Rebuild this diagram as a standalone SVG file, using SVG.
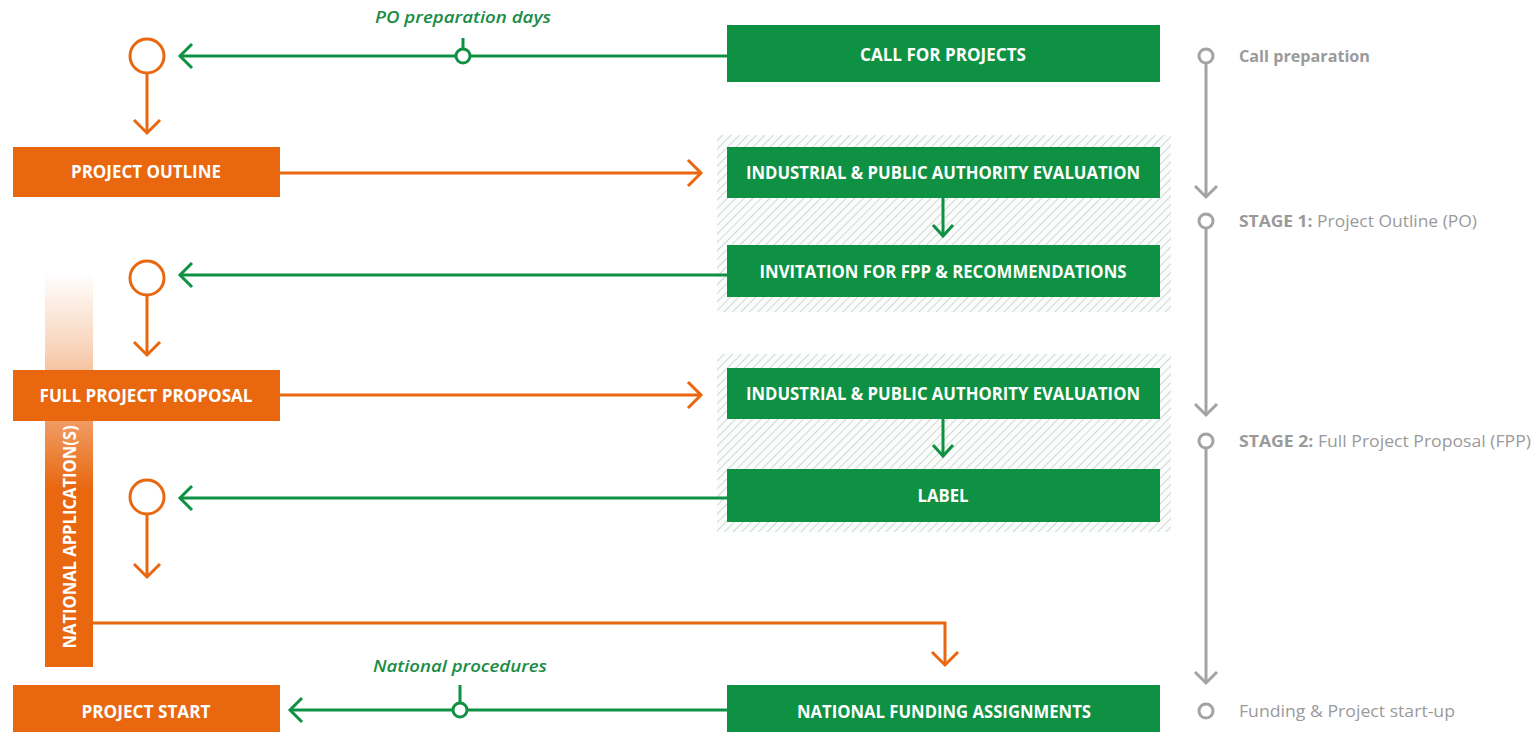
<svg xmlns="http://www.w3.org/2000/svg" width="1539" height="732" viewBox="0 0 1539 732">
<style>
.bg{fill:#0e9142}
.bo{fill:#e8670f}
.lbl{font-family:"Open Sans","Noto Sans",sans-serif;font-weight:700;font-size:18px;fill:#fff;text-anchor:middle}
.it{font-family:"Open Sans","Noto Sans",sans-serif;font-style:italic;font-weight:600;font-size:17px;fill:#1a8c45;text-anchor:middle}
.gt{font-family:"Open Sans","Noto Sans",sans-serif;font-size:16px;fill:#9a9a9a}
.gtb{font-weight:700}
.lg{fill:none;stroke:#0e9142;stroke-width:3}
.lo{fill:none;stroke:#e8670f;stroke-width:3}
.lgr{fill:none;stroke:#a3a3a3;stroke-width:3}
.hatch{fill:url(#hatch)}
</style>
<defs>
<pattern id="hatch" patternUnits="userSpaceOnUse" width="6" height="6" patternTransform="rotate(45)">
<rect width="6" height="6" fill="#fafdfb"/>
<line x1="0" y1="0" x2="0" y2="6" stroke="#a9bcae" stroke-width="1.1"/>
</pattern>
<linearGradient id="barGrad" x1="0" y1="273" x2="0" y2="667" gradientUnits="userSpaceOnUse">
<stop offset="0" stop-color="#e8670f" stop-opacity="0"/>
<stop offset="0.2" stop-color="#e8670f" stop-opacity="0.3"/>
<stop offset="0.55" stop-color="#e8670f" stop-opacity="1"/>
<stop offset="1" stop-color="#e8670f" stop-opacity="1"/>
</linearGradient>
<marker id="ag" viewBox="-15 -15 30 30" markerWidth="30" markerHeight="30" refX="0" refY="0" orient="auto" markerUnits="userSpaceOnUse">
<path d="M-12,-12 L0,0 L-12,12" fill="none" stroke="#0e9142" stroke-width="3"/>
</marker>
<marker id="ags" viewBox="-15 -15 30 30" markerWidth="30" markerHeight="30" refX="0" refY="0" orient="auto" markerUnits="userSpaceOnUse">
<path d="M-11,-10 L0,0 L-11,10" fill="none" stroke="#0e9142" stroke-width="3"/>
</marker>
<marker id="ao" viewBox="-15 -15 30 30" markerWidth="30" markerHeight="30" refX="0" refY="0" orient="auto" markerUnits="userSpaceOnUse">
<path d="M-13,-13 L0,0 L-13,13" fill="none" stroke="#e8670f" stroke-width="3"/>
</marker>
<marker id="agr" viewBox="-15 -15 30 30" markerWidth="30" markerHeight="30" refX="0" refY="0" orient="auto" markerUnits="userSpaceOnUse">
<path d="M-11,-11 L0,0 L-11,11" fill="none" stroke="#a3a3a3" stroke-width="3"/>
</marker>
</defs>
<rect width="1539" height="732" fill="#fff"/>

<g id="hatched-areas">
<rect class="hatch" x="717" y="135" width="454" height="177"/>
<rect class="hatch" x="717" y="354" width="454" height="178"/>
</g>

<g id="national-applications">
<rect x="45" y="273" width="48" height="394" fill="url(#barGrad)"/>
<text class="lbl" transform="translate(76,537) rotate(-90)" x="0" y="0" textLength="223" lengthAdjust="spacingAndGlyphs">NATIONAL APPLICATION(S)</text>
</g>

<g id="connectors">
<line class="lg" x1="727" y1="56" x2="180" y2="56" marker-end="url(#ag)"/>
<line class="lg" x1="463" y1="38" x2="463" y2="49"/>
<circle cx="463" cy="56" r="7" fill="#fff" stroke="#0e9142" stroke-width="3"/>
<circle cx="147" cy="56" r="17" fill="#fff" stroke="#e8670f" stroke-width="3"/>
<line class="lo" x1="147" y1="73" x2="147" y2="133" marker-end="url(#ao)"/>
<line class="lo" x1="280" y1="173" x2="701" y2="173" marker-end="url(#ao)"/>
<line class="lg" x1="943" y1="198" x2="943" y2="236" marker-end="url(#ags)"/>
<line class="lg" x1="727" y1="275" x2="180" y2="275" marker-end="url(#ag)"/>
<circle cx="147" cy="278" r="17" fill="#fff" stroke="#e8670f" stroke-width="3"/>
<line class="lo" x1="147" y1="295" x2="147" y2="355" marker-end="url(#ao)"/>
<line class="lo" x1="280" y1="395" x2="701" y2="395" marker-end="url(#ao)"/>
<line class="lg" x1="943" y1="419" x2="943" y2="456" marker-end="url(#ags)"/>
<line class="lg" x1="727" y1="498" x2="180" y2="498" marker-end="url(#ag)"/>
<circle cx="147" cy="497" r="17" fill="#fff" stroke="#e8670f" stroke-width="3"/>
<line class="lo" x1="147" y1="514" x2="147" y2="577" marker-end="url(#ao)"/>
<polyline class="lo" points="93,623 945,623 945,665" marker-end="url(#ao)"/>
<line class="lg" x1="727" y1="710" x2="290" y2="710" marker-end="url(#ag)"/>
<line class="lg" x1="460" y1="685" x2="460" y2="703"/>
<circle cx="460" cy="710" r="7" fill="#fff" stroke="#0e9142" stroke-width="3"/>
</g>

<g id="po-preparation-label"><text class="it" x="463" y="23" textLength="176" lengthAdjust="spacingAndGlyphs">PO preparation days</text></g>
<g id="national-procedures-label"><text class="it" x="460" y="672" textLength="174" lengthAdjust="spacingAndGlyphs">National procedures</text></g>

<g id="call-for-projects"><rect class="bg" x="727" y="25" width="433" height="57"/><text class="lbl" x="943" y="61" textLength="166" lengthAdjust="spacingAndGlyphs">CALL FOR PROJECTS</text></g>
<g id="project-outline"><rect class="bo" x="13" y="147" width="267" height="50"/><text class="lbl" x="146" y="178" textLength="150" lengthAdjust="spacingAndGlyphs">PROJECT OUTLINE</text></g>
<g id="evaluation-1"><rect class="bg" x="727" y="147" width="433" height="51"/><text class="lbl" x="943" y="179" textLength="394" lengthAdjust="spacingAndGlyphs">INDUSTRIAL &amp; PUBLIC AUTHORITY EVALUATION</text></g>
<g id="invitation"><rect class="bg" x="727" y="245" width="433" height="52"/><text class="lbl" x="943" y="278" textLength="367" lengthAdjust="spacingAndGlyphs">INVITATION FOR FPP &amp; RECOMMENDATIONS</text></g>
<g id="full-project-proposal"><rect class="bo" x="13" y="370" width="267" height="51"/><text class="lbl" x="146" y="402" textLength="213" lengthAdjust="spacingAndGlyphs">FULL PROJECT PROPOSAL</text></g>
<g id="evaluation-2"><rect class="bg" x="727" y="368" width="433" height="51"/><text class="lbl" x="943" y="400" textLength="394" lengthAdjust="spacingAndGlyphs">INDUSTRIAL &amp; PUBLIC AUTHORITY EVALUATION</text></g>
<g id="label"><rect class="bg" x="727" y="469" width="433" height="53"/><text class="lbl" x="943" y="502" textLength="51" lengthAdjust="spacingAndGlyphs">LABEL</text></g>
<g id="project-start"><rect class="bo" x="13" y="685" width="267" height="47"/><text class="lbl" x="146" y="718" textLength="129" lengthAdjust="spacingAndGlyphs">PROJECT START</text></g>
<g id="national-funding"><rect class="bg" x="727" y="685" width="433" height="47"/><text class="lbl" x="944" y="718" textLength="294" lengthAdjust="spacingAndGlyphs">NATIONAL FUNDING ASSIGNMENTS</text></g>

<g id="timeline">
<line class="lgr" x1="1206" y1="63" x2="1206" y2="197" marker-end="url(#agr)"/>
<line class="lgr" x1="1206" y1="228" x2="1206" y2="415" marker-end="url(#agr)"/>
<line class="lgr" x1="1206" y1="448" x2="1206" y2="683" marker-end="url(#agr)"/>
<circle cx="1206" cy="56" r="7" fill="#fff" stroke="#a3a3a3" stroke-width="3"/>
<circle cx="1206" cy="221" r="7" fill="#fff" stroke="#a3a3a3" stroke-width="3"/>
<circle cx="1206" cy="441" r="7" fill="#fff" stroke="#a3a3a3" stroke-width="3"/>
<circle cx="1206" cy="711" r="7" fill="#fff" stroke="#a3a3a3" stroke-width="3"/>
</g>
<g id="stage-call"><text class="gt gtb" x="1239" y="62" textLength="131" lengthAdjust="spacingAndGlyphs">Call preparation</text></g>
<g id="stage-1"><text class="gt" x="1239" y="227" textLength="238" lengthAdjust="spacingAndGlyphs"><tspan class="gtb">STAGE 1:</tspan> Project Outline (PO)</text></g>
<g id="stage-2"><text class="gt" x="1239" y="447" textLength="292" lengthAdjust="spacingAndGlyphs"><tspan class="gtb">STAGE 2:</tspan> Full Project Proposal (FPP)</text></g>
<g id="stage-funding"><text class="gt" x="1239" y="717" textLength="216" lengthAdjust="spacingAndGlyphs">Funding &amp; Project start-up</text></g>
</svg>
